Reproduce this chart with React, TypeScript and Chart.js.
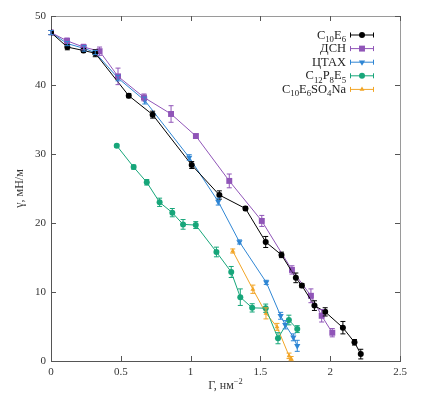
import React, { useEffect, useRef } from 'react';
import { Chart, registerables } from 'chart.js';

Chart.register(...registerables);

// ---- data ----
const xC10E6 = [0, 0.117, 0.233, 0.317, 0.557, 0.728, 1.008, 1.206, 1.393, 1.538, 1.651, 1.754, 1.797, 1.887, 1.964, 2.091, 2.174, 2.219];
const yC10E6 = [47.6, 45.5, 45.0, 44.6, 38.45, 35.7, 28.4, 24.06, 22.1, 17.25, 15.38, 12.05, 10.93, 8.03, 7.12, 4.83, 2.71, 1.0];
const eC10E6 = [0.3, 0.4, 0.3, 0.5, 0.3, 0.5, 0.5, 0.6, 0.3, 0.8, 0.4, 0.7, 0.3, 0.7, 0.6, 0.9, 0.4, 0.7];

const xDSN = [0, 0.115, 0.233, 0.348, 0.48, 0.666, 0.86, 1.038, 1.277, 1.51, 1.726, 1.862, 1.939, 2.015];
const yDSN = [47.6, 46.4, 45.5, 44.9, 41.25, 38.2, 35.8, 32.6, 26.1, 20.3, 13.2, 9.45, 6.55, 4.1];
const eDSN = [0.3, 0.4, 0.4, 0.6, 1.2, 0.5, 1.2, 0.3, 1.0, 0.8, 0.6, 1.0, 0.9, 0.6];

const xCTAX = [0, 0.117, 0.238, 0.317, 0.48, 0.672, 0.99, 1.198, 1.35, 1.542, 1.645, 1.678, 1.736, 1.764];
const yCTAX = [47.6, 46.0, 45.3, 44.7, 41.0, 37.75, 29.5, 23.1, 17.25, 11.4, 6.55, 5.25, 3.43, 2.2];
const eCTAX = [0.3, 0.3, 0.4, 0.3, 0.4, 0.5, 0.4, 0.5, 0.3, 0.3, 0.5, 0.6, 0.5, 0.8];

const xC12P8E5 = [0.471, 0.592, 0.686, 0.778, 0.869, 0.946, 1.037, 1.185, 1.291, 1.356, 1.441, 1.538, 1.626, 1.704, 1.764];
const yC12P8E5 = [31.2, 28.1, 25.9, 23.0, 21.5, 19.8, 19.7, 15.8, 12.9, 9.25, 7.7, 7.65, 3.3, 5.94, 4.62];
const eC12P8E5 = [0.2, 0.3, 0.4, 0.6, 0.6, 0.7, 0.5, 0.7, 0.8, 1.2, 0.6, 0.6, 0.8, 0.7, 0.5];

const xC10E6SO4Na = [1.302, 1.446, 1.54, 1.619, 1.705, 1.72];
const yC10E6SO4Na = [15.94, 10.4, 6.9, 4.95, 0.75, 0.35];
const eC10E6SO4Na = [0.3, 0.6, 0.8, 0.5, 0.4, 0.3];

const xTicks = [0, 0.5, 1, 1.5, 2, 2.5];
const yTicks = [0, 10, 20, 30, 40, 50];

type Seg = { t: string; sub?: boolean; sup?: boolean };

const labC10E6: Seg[] = [{ t: 'C' }, { t: '10', sub: true }, { t: 'E' }, { t: '6', sub: true }];
const labDSN: Seg[] = [{ t: 'ДСН' }];
const labCTAX: Seg[] = [{ t: 'ЦТАХ' }];
const labC12P8E5: Seg[] = [{ t: 'C' }, { t: '12', sub: true }, { t: 'P' }, { t: '8', sub: true }, { t: 'E' }, { t: '5', sub: true }];
const labC10E6SO4Na: Seg[] = [{ t: 'C' }, { t: '10', sub: true }, { t: 'E' }, { t: '6', sub: true }, { t: 'SO' }, { t: '4', sub: true }, { t: 'Na' }];

const xTitle: Seg[] = [{ t: 'Γ, нм' }, { t: '−2', sup: true }];
const yTitle: Seg[] = [{ t: 'γ, мН/м' }];

const FONT = '"Liberation Serif", "Times New Roman", serif';

const series = [
  { xs: xC10E6, ys: yC10E6, es: eC10E6, label: labC10E6, color: '#000000', style: 'circle', r: 3, rot: 0 },
  { xs: xDSN, ys: yDSN, es: eDSN, label: labDSN, color: '#9055b8', style: 'rect', r: 4.2, rot: 0 },
  { xs: xCTAX, ys: yCTAX, es: eCTAX, label: labCTAX, color: '#2f86d4', style: 'triangle', r: 3.6, rot: 180 },
  { xs: xC12P8E5, ys: yC12P8E5, es: eC12P8E5, label: labC12P8E5, color: '#17a67a', style: 'circle', r: 3, rot: 0 },
  { xs: xC10E6SO4Na, ys: yC10E6SO4Na, es: eC10E6SO4Na, label: labC10E6SO4Na, color: '#f2a526', style: 'triangle', r: 2.8, rot: 0 },
];

function richWidth(ctx: CanvasRenderingContext2D, segs: Seg[], size: number) {
  let w = 0;
  for (const s of segs) {
    const fs = s.sub || s.sup ? size * 0.7 : size;
    ctx.font = `${fs}px ${FONT}`;
    w += ctx.measureText(s.t).width;
  }
  return w;
}

function drawRich(ctx: CanvasRenderingContext2D, segs: Seg[], x: number, y: number, size: number, align: 'left' | 'right' | 'center') {
  const w = richWidth(ctx, segs, size);
  let cx = align === 'left' ? x : align === 'right' ? x - w : x - w / 2;
  ctx.textAlign = 'left';
  ctx.textBaseline = 'alphabetic';
  for (const s of segs) {
    const fs = s.sub || s.sup ? size * 0.7 : size;
    ctx.font = `${fs}px ${FONT}`;
    const dy = s.sub ? size * 0.28 : s.sup ? -size * 0.38 : 0;
    ctx.fillText(s.t, cx, y + dy);
    cx += ctx.measureText(s.t).width;
  }
}

function drawMarker(ctx: CanvasRenderingContext2D, style: string, x: number, y: number, r: number, rot: number, color: string) {
  ctx.fillStyle = color;
  ctx.beginPath();
  if (style === 'circle') {
    ctx.arc(x, y, r, 0, Math.PI * 2);
  } else if (style === 'rect') {
    const s = r * Math.SQRT1_2;
    ctx.rect(x - s, y - s, 2 * s, 2 * s);
  } else {
    const a = (rot * Math.PI) / 180;
    for (let k = 0; k < 3; k++) {
      const ang = a + (k * 2 * Math.PI) / 3;
      const px = x + Math.sin(ang) * r;
      const py = y - Math.cos(ang) * r;
      if (k === 0) ctx.moveTo(px, py);
      else ctx.lineTo(px, py);
    }
    ctx.closePath();
  }
  ctx.fill();
}

const decorPlugin = {
  id: 'decor',
  afterDatasetsDraw(chart: any) {
    const ctx: CanvasRenderingContext2D = chart.ctx;
    const xs = chart.scales.x;
    const ys = chart.scales.y;
    const { left, right, top, bottom } = chart.chartArea;
    ctx.save();
    // error bars
    chart.data.datasets.forEach((ds: any, di: number) => {
      const meta = chart.getDatasetMeta(di);
      const s = series[di];
      ctx.strokeStyle = s.color;
      ctx.lineWidth = 1;
      meta.data.forEach((pt: any, i: number) => {
        const px = pt.x;
        const y1 = ys.getPixelForValue(s.ys[i] + s.es[i]);
        const y2 = ys.getPixelForValue(s.ys[i] - s.es[i]);
        ctx.beginPath();
        ctx.moveTo(px, y1);
        ctx.lineTo(px, y2);
        ctx.moveTo(px - 2.5, y1);
        ctx.lineTo(px + 2.5, y1);
        ctx.moveTo(px - 2.5, y2);
        ctx.lineTo(px + 2.5, y2);
        ctx.stroke();
      });
    });
    // frame top/right
    ctx.strokeStyle = '#9a9a9a';
    ctx.lineWidth = 1;
    ctx.beginPath();
    ctx.moveTo(left, top + 0.5);
    ctx.lineTo(right + 0.5, top + 0.5);
    ctx.lineTo(right + 0.5, bottom);
    ctx.stroke();
    // inward ticks
    ctx.strokeStyle = '#555';
    ctx.beginPath();
    for (const v of xTicks) {
      const px = Math.round(xs.getPixelForValue(v)) + 0.5;
      ctx.moveTo(px, bottom);
      ctx.lineTo(px, bottom - 5);
      ctx.moveTo(px, top);
      ctx.lineTo(px, top + 5);
    }
    for (const v of yTicks) {
      const py = Math.round(ys.getPixelForValue(v)) + 0.5;
      ctx.moveTo(left, py);
      ctx.lineTo(left + 5, py);
      ctx.moveTo(right, py);
      ctx.lineTo(right - 5, py);
    }
    ctx.stroke();
    // axis titles
    ctx.fillStyle = '#333';
    drawRich(ctx, xTitle, (left + right) / 2, 389, 12, 'center');
    ctx.save();
    ctx.translate(23, (top + bottom) / 2);
    ctx.rotate(-Math.PI / 2);
    drawRich(ctx, yTitle, 0, 0, 12, 'center');
    ctx.restore();
    // legend
    const textRight = 346;
    const lx1 = 350;
    const lx2 = 374;
    series.forEach((s, i) => {
      const cy = 34.5 + i * 13.6;
      ctx.fillStyle = '#222';
      drawRich(ctx, s.label, textRight, cy + 4, 12.5, 'right');
      ctx.strokeStyle = s.color;
      ctx.lineWidth = 1;
      ctx.beginPath();
      ctx.moveTo(lx1, cy + 0.5);
      ctx.lineTo(lx2, cy + 0.5);
      ctx.moveTo(lx1 + 0.5, cy - 2);
      ctx.lineTo(lx1 + 0.5, cy + 3);
      ctx.moveTo(lx2 - 0.5, cy - 2);
      ctx.lineTo(lx2 - 0.5, cy + 3);
      ctx.stroke();
      drawMarker(ctx, s.style, (lx1 + lx2) / 2, cy + 0.5, s.r, s.rot, s.color);
    });
    ctx.restore();
  },
};

export default function App() {
  const ref = useRef<HTMLCanvasElement | null>(null);
  useEffect(() => {
    document.body.style.margin = '0';
    const canvas = ref.current;
    if (!canvas) return;
    const chart = new Chart(canvas, {
      type: 'scatter',
      data: {
        datasets: series.map((s) => ({
          data: s.xs.map((x, i) => ({ x, y: s.ys[i] })),
          showLine: true,
          borderColor: s.color,
          backgroundColor: s.color,
          borderWidth: 1,
          pointStyle: s.style as any,
          pointRadius: s.r,
          pointRotation: s.rot,
          pointBorderWidth: 0,
          pointHoverRadius: s.r,
        })),
      },
      options: {
        responsive: false,
        animation: false,
        devicePixelRatio: 1,
        layout: { padding: { left: 0, right: 32, top: 16, bottom: 0 } },
        plugins: { legend: { display: false }, tooltip: { enabled: false } },
        scales: {
          x: {
            type: 'linear',
            min: 0,
            max: 2.5,
            grid: { display: false, drawTicks: false },
            border: { display: true, color: '#555', width: 1 },
            ticks: {
              stepSize: 0.5,
              padding: 5,
              color: '#333',
              font: { family: FONT, size: 11 },
              maxRotation: 0,
              callback: (v: any) => String(v),
            },
            afterFit: (sc: any) => {
              sc.height = 38;
            },
          },
          y: {
            type: 'linear',
            min: 0,
            max: 50,
            grid: { display: false, drawTicks: false },
            border: { display: true, color: '#555', width: 1 },
            ticks: {
              stepSize: 10,
              padding: 5,
              color: '#333',
              font: { family: FONT, size: 11 },
            },
            afterFit: (sc: any) => {
              sc.width = 51;
            },
          },
        },
      },
      plugins: [decorPlugin],
    });
    return () => chart.destroy();
  }, []);
  return (
    <div style={{ width: 432, height: 399 }}>
      <canvas ref={ref} width={432} height={399} style={{ display: 'block' }} />
    </div>
  );
}
